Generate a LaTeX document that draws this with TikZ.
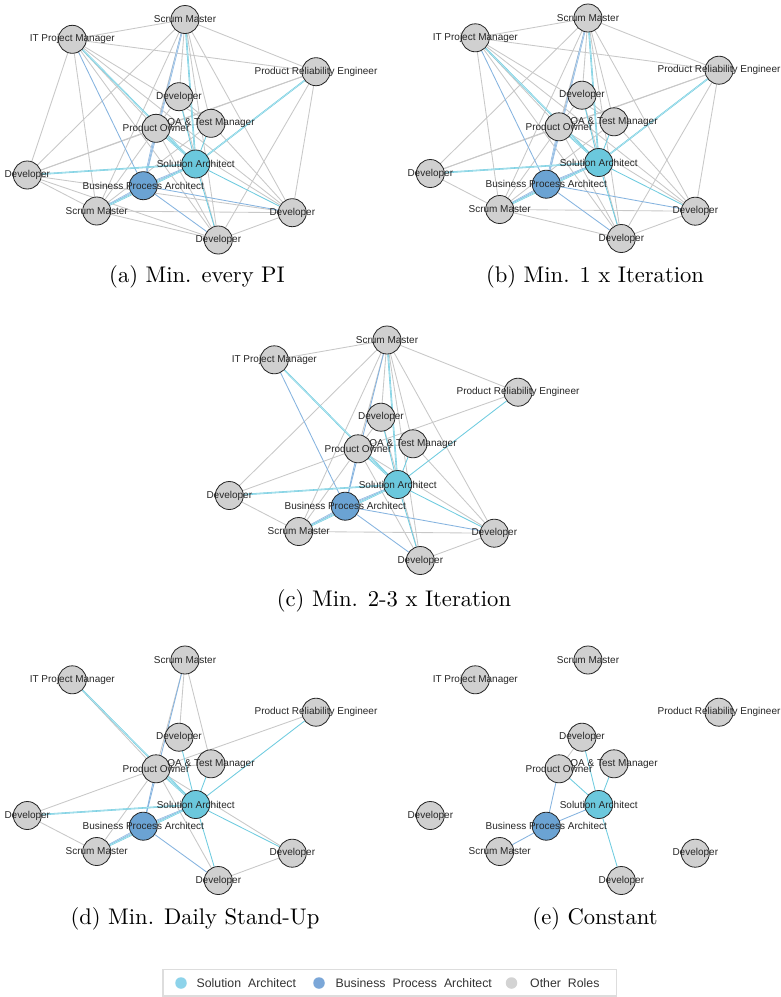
\documentclass[tikz,border=0pt]{standalone}
\usepackage{fontspec}
\setsansfont{Liberation Sans}

\definecolor{nodegrey}{HTML}{D0D0D0}
\definecolor{safill}{HTML}{6BC8DD}
\definecolor{bpafill}{HTML}{6BA3D3}
\definecolor{edgegrey}{HTML}{C8C8C8}
\definecolor{edgecyan}{HTML}{6FCCE0}
\definecolor{edgeblue}{HTML}{86B4E0}
\definecolor{legsa}{HTML}{8DD3EA}
\definecolor{legbpa}{HTML}{7BA7D8}
\definecolor{legother}{HTML}{D3D3D3}
\definecolor{legframe}{HTML}{DDDDDD}

\pgfdeclarelayer{paper}
\pgfdeclarelayer{edges}
\pgfdeclarelayer{labels}
\pgfsetlayers{paper,edges,main,labels}

\tikzset{
  role/.style={circle, draw=black!85, line width=0.8pt, minimum size=28pt, inner sep=0pt},
  other/.style={role, fill=nodegrey},
  solarch/.style={role, fill=safill},
  bparch/.style={role, fill=bpafill},
  lbl/.style={font=\sffamily\fontsize{10}{12}\selectfont, text=black!85, inner sep=0pt},
  ge/.style={draw=edgegrey, line width=0.85pt},
  se/.style={draw=edgecyan, line width=0.85pt},
  be/.style={draw=edgeblue, line width=0.85pt},
  sedbl/.style={draw=edgecyan, line width=0.55pt, double=edgecyan!40, double distance=0.45pt},
  bedbl/.style={draw=edgeblue, line width=0.55pt, double=edgeblue!40, double distance=0.45pt},
  captext/.style={inner sep=0pt, text=black},
  legdot/.style={circle, inner sep=0pt, minimum width=10pt, minimum height=11.5pt},
  legtxt/.style={font=\sffamily\fontsize{12.3}{14}\selectfont, text=black!80, inner sep=0pt, anchor=west},
}

% the twelve roles of one network, prefix #1
\newcommand\rolenodes[1]{%
  \node[other]   (#1SMt)  at (185,19.5)   {};
  \node[other]   (#1ITPM) at (72.3,39.3)  {};
  \node[other]   (#1PRE)  at (316,71.7)   {};
  \node[other]   (#1DevT) at (179,96.7)   {};
  \node[other]   (#1QA)   at (211,123.3)  {};
  \node[other]   (#1PO)   at (156,128.3)  {};
  \node[solarch] (#1SA)   at (195.7,164)  {};
  \node[other]   (#1DevL) at (27.3,175)   {};
  \node[bparch]  (#1BPA)  at (143.3,185.7){};
  \node[other]   (#1SMb)  at (96.7,211)   {};
  \node[other]   (#1DevR) at (292.3,212.7){};
  \node[other]   (#1DevB) at (218.3,240)  {};
  \begin{pgfonlayer}{labels}
    \node[lbl] (#1SMt-t)  at (#1SMt)  {Scrum Master};
    \node[lbl] (#1ITPM-t) at (#1ITPM) {IT Project Manager};
    \node[lbl] (#1PRE-t)  at (#1PRE)  {Product Reliability Engineer};
    \node[lbl] (#1DevT-t) at (#1DevT) {Developer};
    \node[lbl] (#1QA-t)   at (#1QA)   {QA \& Test Manager};
    \node[lbl] (#1PO-t)   at (#1PO)   {Product Owner};
    \node[lbl] (#1SA-t)   at (#1SA)   {Solution Architect};
    \node[lbl] (#1DevL-t) at (#1DevL) {Developer};
    \node[lbl] (#1BPA-t)  at (#1BPA)  {Business Process Architect};
    \node[lbl] (#1SMb-t)  at (#1SMb)  {Scrum Master};
    \node[lbl] (#1DevR-t) at (#1DevR) {Developer};
    \node[lbl] (#1DevB-t) at (#1DevB) {Developer};
  \end{pgfonlayer}
}

% connectors of one network: prefix, style, list of pairs
\newcommand\links[3]{%
  \begin{pgfonlayer}{edges}
    \foreach \u/\v in {#3} {\draw[#2] (#1\u) -- (#1\v);}
  \end{pgfonlayer}
}

\begin{document}
\begin{tikzpicture}[x=1pt, y=-1pt]
\useasboundingbox (0,0) rectangle (781,997);
\begin{pgfonlayer}{paper}
  \fill[white] (0,0) rectangle (781,997);
\end{pgfonlayer}

% ---------- networks ----------
\begin{scope}[shift={(0,0)}]     \rolenodes{a} \end{scope}
\begin{scope}[shift={(403,-1.5)}] \rolenodes{b} \end{scope}
\begin{scope}[shift={(202,320.5)}] \rolenodes{c} \end{scope}
\begin{scope}[shift={(0,640.5)}]  \rolenodes{d} \end{scope}
\begin{scope}[shift={(403,640.5)}] \rolenodes{e} \end{scope}

% (a) every PI
\links{a}{ge}{SMt/ITPM, SMt/PRE, SMt/DevL, SMt/SMb, SMt/DevT, SMt/QA, SMt/PO, SMt/DevR, SMt/DevB,
  ITPM/PRE, ITPM/DevL, ITPM/SMb, ITPM/PO, ITPM/QA, ITPM/DevR, ITPM/DevB,
  PRE/PO, PRE/DevL, PRE/DevR, PRE/DevB, DevT/PO, DevT/QA, DevT/DevB,
  QA/PO, QA/DevR, QA/SMb, PO/DevL, PO/SMb, PO/DevR, PO/DevB,
  DevL/SMb, DevL/DevB, DevL/DevR, SMb/DevR, SMb/DevB, DevR/DevB}
\links{a}{be}{BPA/ITPM, BPA/DevR, BPA/DevB}
\links{a}{bedbl}{BPA/SMt, BPA/PO, BPA/SMb, BPA/SA}
\links{a}{se}{SA/DevT, SA/QA, SA/DevR, SA/DevB}
\links{a}{sedbl}{SA/SMt, SA/ITPM, SA/PRE, SA/PO, SA/DevL, SA/SMb}

% (b) 1 x Iteration
\links{b}{ge}{SMt/ITPM, SMt/PRE, SMt/DevL, SMt/SMb, SMt/DevT, SMt/QA, SMt/PO, SMt/DevR, SMt/DevB,
  ITPM/PRE, ITPM/SMb, ITPM/PO, ITPM/QA, ITPM/DevR, ITPM/DevB,
  PRE/PO, PRE/DevL, PRE/DevR, PRE/DevB, DevT/PO, DevT/QA, DevT/DevB,
  QA/PO, QA/DevR, QA/SMb, PO/DevL, PO/SMb, PO/DevR, PO/DevB,
  DevL/SMb, SMb/DevR, SMb/DevB, DevR/DevB}
\links{b}{be}{BPA/ITPM, BPA/DevR, BPA/DevB}
\links{b}{bedbl}{BPA/SMt, BPA/PO, BPA/SMb, BPA/SA}
\links{b}{se}{SA/DevT, SA/QA, SA/DevR, SA/DevB}
\links{b}{sedbl}{SA/SMt, SA/ITPM, SA/PRE, SA/PO, SA/DevL, SA/SMb}

% (c) 2-3 x Iteration
\links{c}{ge}{SMt/ITPM, SMt/PRE, SMt/DevL, SMt/SMb, SMt/DevT, SMt/QA, SMt/PO, SMt/DevR, SMt/DevB,
  PRE/PO, PO/DevL, DevL/SMb, SMb/DevR, PO/SMb, PO/DevB, PO/DevR, QA/DevR,
  DevR/DevB, DevT/DevB, DevT/PO, QA/PO}
\links{c}{be}{BPA/SMt, BPA/ITPM, BPA/PO, BPA/DevR, BPA/DevB}
\links{c}{bedbl}{BPA/SMb, BPA/SA}
\links{c}{se}{SA/PRE, SA/DevT, SA/QA, SA/DevR, SA/DevB}
\links{c}{sedbl}{SA/SMt, SA/ITPM, SA/PO, SA/DevL, SA/SMb}

% (d) Daily Stand-Up
\links{d}{ge}{SMt/DevT, SMt/QA, SMt/PO, ITPM/PO, PRE/PO, QA/PO, PO/DevL, PO/SMb,
  PO/DevB, PO/DevR, DevL/SMb, DevR/DevB}
\links{d}{be}{BPA/SMt, BPA/PO, BPA/DevB}
\links{d}{bedbl}{BPA/SMb, BPA/SA}
\links{d}{se}{SA/PRE, SA/DevT, SA/QA, SA/DevR, SA/DevB}
\links{d}{sedbl}{SA/ITPM, SA/PO, SA/DevL, SA/SMb}

% (e) Constant
\links{e}{ge}{PO/DevT}
\links{e}{be}{BPA/SA, BPA/PO, BPA/SMb}
\links{e}{se}{SA/DevT, SA/QA, SA/PO, SA/DevB}

% ---------- captions ----------
\node[captext] (capa) at (197,277)   {\scalebox{2.26}{(a) Min. every PI}};
\node[captext] (capb) at (595,277)   {\scalebox{2.26}{(b) Min. 1 x Iteration}};
\node[captext] (capc) at (394,601)   {\scalebox{2.26}{(c) Min. 2-3 x Iteration}};
\node[captext] (capd) at (195,919)   {\scalebox{2.26}{(d) Min. Daily Stand-Up}};
\node[captext] (cape) at (595,919)   {\scalebox{2.26}{(e) Constant}};

% ---------- legend ----------
\draw[legframe, line width=1.5pt] (163,969.5) rectangle (616.5,996);
\node[legdot, fill=legsa]    (ksa)  at (181,983)   {};
\node[legtxt] (ksa-t)  at (196.5,983) {Solution\hspace{7pt}Architect};
\node[legdot, fill=legbpa]   (kbpa) at (319,983)   {};
\node[legtxt] (kbpa-t) at (335.5,983) {Business\hspace{7pt}Process\hspace{7pt}Architect};
\node[legdot, fill=legother] (koth) at (511.5,983) {};
\node[legtxt] (koth-t) at (530,983)   {Other\hspace{7pt}Roles};
\end{tikzpicture}
\end{document}
